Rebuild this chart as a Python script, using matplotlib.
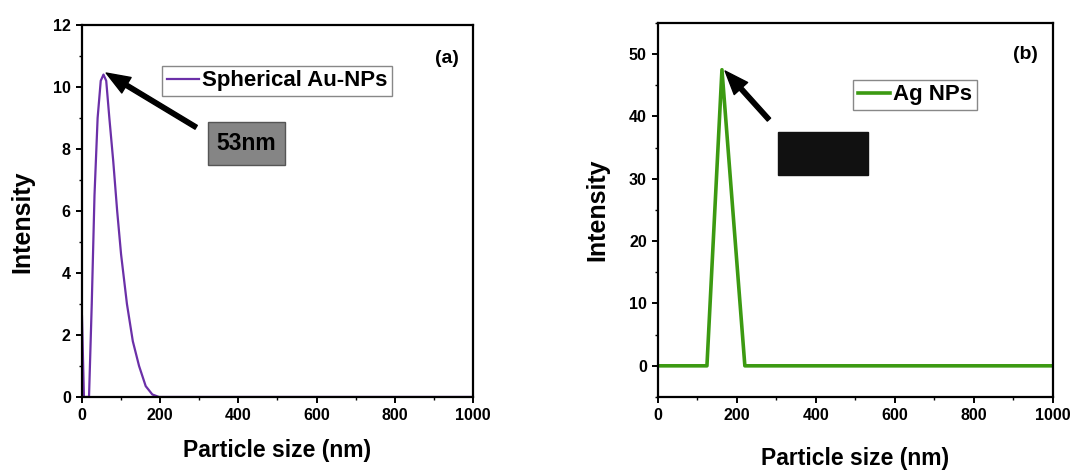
import matplotlib
matplotlib.use("Agg")
import matplotlib.pyplot as plt
from matplotlib.patches import Rectangle
from matplotlib.ticker import MultipleLocator

plt.rcParams['font.family'] = ['Liberation Sans', 'DejaVu Sans']
plt.rcParams['font.weight'] = 'bold'

# Panel (a): Spherical Au-NPs
au_size = [0, 5, 18, 25, 32, 40, 48, 55, 62, 70, 80, 90, 100, 115, 130, 146, 163, 180, 197, 400, 600, 800, 1000]
au_int = [2.6, 0, 0, 3.0, 6.5, 9.0, 10.2, 10.4, 10.2, 9.0, 7.6, 6.0, 4.6, 3.0, 1.8, 1.0, 0.35, 0.08, 0, 0, 0, 0, 0]

# Panel (b): Ag NPs
ag_size = [0, 124, 162, 220, 400, 600, 800, 1000]
ag_int = [0, 0, 47.5, 0, 0, 0, 0, 0]

x_ticks = [0, 200, 400, 600, 800, 1000]
a_yticks = [0, 2, 4, 6, 8, 10, 12]
b_yticks = [0, 10, 20, 30, 40, 50]

fig = plt.figure(figsize=(10.73, 4.76), dpi=100)
ax1 = fig.add_axes([0.0764, 0.166, 0.3644, 0.7815])
ax2 = fig.add_axes([0.6132, 0.166, 0.3681, 0.7857])

purple = '#6b30a8'
green = '#3c9a12'

ax1.plot(au_size, au_int, color=purple, lw=1.6, label='Spherical Au-NPs')
ax1.set_xlim(0, 1000)
ax1.set_ylim(0, 12)
ax1.set_xticks(x_ticks)
ax1.set_yticks(a_yticks)
ax1.xaxis.set_minor_locator(MultipleLocator(100))
ax1.yaxis.set_minor_locator(MultipleLocator(1))

ax2.plot(ag_size, ag_int, color=green, lw=2.6, label='Ag NPs')
ax2.set_xlim(0, 1000)
ax2.set_ylim(-5, 55)
ax2.set_xticks(x_ticks)
ax2.set_yticks(b_yticks)
ax2.xaxis.set_minor_locator(MultipleLocator(100))
ax2.yaxis.set_minor_locator(MultipleLocator(5))

for ax in (ax1, ax2):
    for s in ax.spines.values():
        s.set_linewidth(1.6)
    ax.tick_params(which='major', direction='out', length=4, width=1.4, labelsize=11.5, pad=4)
    ax.tick_params(which='minor', direction='out', length=2.5, width=1.0)
    for lab in ax.get_xticklabels() + ax.get_yticklabels():
        lab.set_fontweight('bold')
    ax.set_ylabel('Intensity', fontsize=18, fontweight='bold')
    ax.set_xlabel('Particle size (nm)', fontsize=16.5, fontweight='bold')

ax1.xaxis.set_label_coords(0.5, -0.113)
ax2.xaxis.set_label_coords(0.5, -0.134)
ax1.yaxis.set_label_coords(-0.122, 0.47)
ax2.yaxis.set_label_coords(-0.124, 0.50)

leg1 = ax1.legend(loc='upper left', bbox_to_anchor=(0.205, 0.89), fontsize=16,
                  handlelength=1.45, handletextpad=0.15, borderpad=0.2,
                  fancybox=False, framealpha=1, edgecolor='#888888', borderaxespad=0)
leg2 = ax2.legend(loc='upper left', bbox_to_anchor=(0.494, 0.848), fontsize=16,
                  handlelength=1.45, handletextpad=0.15, borderpad=0.2,
                  fancybox=False, framealpha=1, edgecolor='#888888', borderaxespad=0)
for leg in (leg1, leg2):
    leg.get_frame().set_linewidth(1.0)

ax1.text(0.934, 0.911, '(a)', transform=ax1.transAxes, fontsize=14, fontweight='bold',
         ha='center', va='center')
ax2.text(0.930, 0.917, '(b)', transform=ax2.transAxes, fontsize=14, fontweight='bold',
         ha='center', va='center')

ax1.annotate('', xy=(62, 10.45), xytext=(292, 8.7),
             arrowprops=dict(facecolor='black', edgecolor='black', width=3.2,
                             headwidth=13, headlength=17, shrink=0))
ax1.add_patch(Rectangle((0.322, 0.624), 0.197, 0.115, transform=ax1.transAxes,
                        facecolor='#858585', edgecolor='#555555', lw=1, zorder=3))
ax1.text(0.42, 0.681, '53nm', transform=ax1.transAxes, fontsize=16.5, fontweight='bold',
         ha='center', va='center', color='black', zorder=4)

ax2.annotate('', xy=(170, 47.3), xytext=(281, 39.5),
             arrowprops=dict(facecolor='black', edgecolor='black', width=3.2,
                             headwidth=13, headlength=17, shrink=0))
ax2.add_patch(Rectangle((0.304, 0.594), 0.228, 0.115, transform=ax2.transAxes,
                        facecolor='#111111', edgecolor='#111111', lw=1, zorder=3))

fig.savefig('out.png', dpi=100)
